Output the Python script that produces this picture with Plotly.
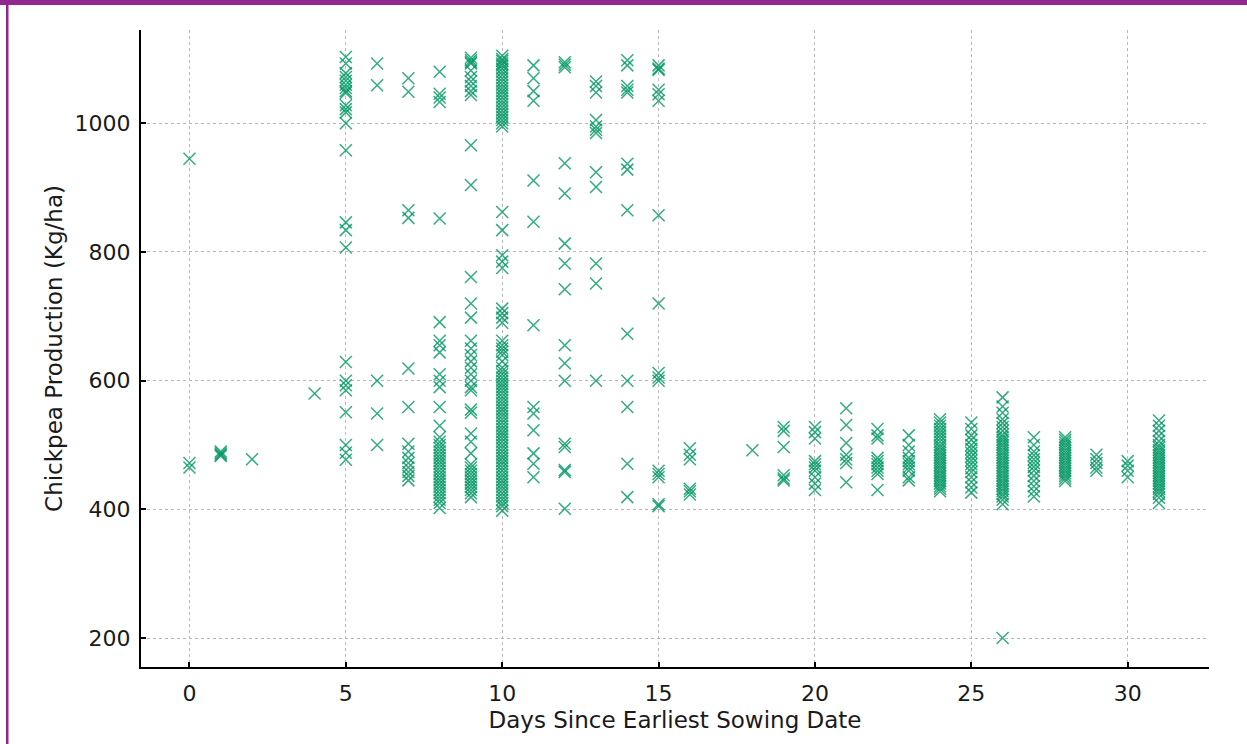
import plotly.graph_objects as go

# Chickpea production (Kg/ha) observed per "days since earliest sowing date"
d0 = [945, 472, 465]
d1 = [490, 487, 485, 483]
d2 = [478]
d4 = [580]
d5 = [1103, 1093, 1078, 1072, 1066, 1060, 1055, 1050, 1047, 1028, 1022, 1017, 1000, 958,
      846, 834, 807, 629, 600, 593, 585, 551, 500, 488, 477]
d6 = [1093, 1059, 600, 549, 500]
d7 = [1070, 1049, 865, 853, 619, 559, 502, 490, 480, 472, 465, 458, 452, 445]
d8 = [1080, 1046, 1040, 1033, 852, 691, 662, 655, 644, 610, 600, 590, 559, 530,
      512, 505, 500, 495, 490, 485, 480, 475, 470, 465, 460, 455, 450, 445, 440,
      435, 430, 425, 420, 415, 410, 402]
d9 = [1102, 1098, 1095, 1093, 1082, 1072, 1065, 1058, 1050, 1044, 966, 904, 761, 720,
      698, 662, 650, 640, 630, 620, 610, 600, 590, 585, 555, 550, 518, 505, 487,
      470, 465, 460, 455, 450, 445, 440, 435, 430, 425, 419]
d10 = [1105, 1100, 1097, 1093, 1090, 1085, 1080, 1075, 1070, 1065, 1060, 1055, 1050,
       1045, 1040, 1035, 1030, 1025, 1020, 1015, 1010, 1005, 1000, 995,
       862, 834, 795, 785, 775, 712, 705, 698, 690,
       662, 655, 650, 645, 640, 630, 620, 615, 610, 605, 600, 595, 590, 585, 580,
       575, 570, 565, 560, 555, 550, 545, 540, 535, 530, 525, 520, 515, 510, 505,
       500, 495, 490, 485, 480, 475, 470, 465, 460, 455, 450, 445, 440, 435, 430,
       425, 420, 415, 410, 405, 398]
d11 = [1090, 1070, 1050, 1035, 911, 847, 686, 559, 549, 523, 487, 471, 450]
d12 = [1095, 1091, 1087, 938, 891, 813, 782, 742, 655, 627, 600, 502, 497, 461, 458, 401]
d13 = [1065, 1058, 1048, 1005, 995, 990, 985, 924, 901, 782, 751, 600]
d14 = [1098, 1090, 1058, 1052, 1048, 937, 928, 865, 673, 600, 559, 471, 419]
d15 = [1090, 1085, 1083, 1052, 1045, 1035, 857, 720, 612, 605, 600, 460, 455, 450, 408, 405]
d16 = [495, 485, 478, 432, 428, 423]
d18 = [492]
d19 = [528, 522, 497, 453, 448, 445]
d20 = [528, 520, 510, 475, 470, 465, 460, 450, 440, 430]
d21 = [557, 531, 503, 485, 478, 472, 442]
d22 = [525, 515, 510, 480, 475, 470, 465, 460, 455, 430]
d23 = [515, 500, 490, 480, 475, 470, 465, 460, 450, 445]
d24 = [540, 535, 530, 525, 520, 515, 510, 505, 500, 496, 492, 488, 484, 480, 476, 472,
       468, 464, 460, 456, 452, 448, 444, 440, 436, 432, 428]
d25 = [535, 525, 515, 508, 500, 494, 488, 482, 476, 470, 464, 458, 450, 442, 434, 426]
d26 = [574, 560, 550, 540, 534, 528, 522, 516, 512, 508, 504, 500, 496, 492, 488, 484,
       480, 476, 472, 468, 464, 460, 456, 452, 448, 444, 440, 436, 432, 428, 424,
       420, 415, 408, 200]
d27 = [512, 500, 490, 484, 478, 472, 466, 460, 452, 444, 436, 428, 420]
d28 = [512, 508, 504, 500, 496, 492, 488, 484, 480, 476, 472, 468, 464, 460, 456,
       452, 448, 444]
d29 = [485, 478, 472, 465, 460]
d30 = [475, 468, 460, 450]
d31 = [538, 530, 522, 514, 506, 500, 496, 492, 488, 484, 480, 476, 472, 468, 464,
       460, 456, 452, 448, 444, 440, 436, 432, 428, 424, 418, 410]

columns = {0: d0, 1: d1, 2: d2, 4: d4, 5: d5, 6: d6, 7: d7, 8: d8, 9: d9, 10: d10,
           11: d11, 12: d12, 13: d13, 14: d14, 15: d15, 16: d16, 18: d18, 19: d19,
           20: d20, 21: d21, 22: d22, 23: d23, 24: d24, 25: d25, 26: d26, 27: d27,
           28: d28, 29: d29, 30: d30, 31: d31}

days, production = [], []
for k, vals in columns.items():
    days += [k] * len(vals)
    production += vals

x_ticks = [0, 5, 10, 15, 20, 25, 30]
y_ticks = [200, 400, 600, 800, 1000]

FONT = "DejaVu Sans"

fig = go.Figure(go.Scatter(
    x=days, y=production, mode="markers",
    marker=dict(symbol="x-thin", size=12, color="rgba(0,0,0,0)",
                line=dict(color="rgba(0,150,100,0.8)", width=1.5)),
    showlegend=False, hoverinfo="x+y",
))

axis_common = dict(
    showline=True, linecolor="black", linewidth=2, mirror=False,
    ticks="inside", ticklen=5, tickwidth=1.6, tickcolor="black",
    showgrid=True, gridcolor="#b8b8b8", gridwidth=1, griddash="dot",
    zeroline=False, tickfont=dict(family=FONT, size=22, color="#1a1a1a"),
)

fig.update_layout(
    width=1247, height=744,
    margin=dict(l=141, r=38, t=30, b=77),
    paper_bgcolor="white", plot_bgcolor="white",
    font=dict(family=FONT, color="#1a1a1a"),
    xaxis=dict(range=[-1.55, 32.6], tickvals=x_ticks, ticklabelstandoff=6,
               title=dict(text="Days Since Earliest Sowing Date", font=dict(family=FONT, size=23), standoff=6),
               **axis_common),
    yaxis=dict(range=[155, 1145], tickvals=y_ticks, ticklabelstandoff=4,
               title=dict(text="Chickpea Production (Kg/ha)", font=dict(family=FONT, size=23), standoff=6),
               **axis_common),
    shapes=[
        dict(type="rect", xref="paper", yref="paper",
             x0=(0 - 141) / 1068, x1=(1247 - 141) / 1068,
             y0=(667 - 0) / 637, y1=(667 - 5) / 637,
             fillcolor="#92278f", line=dict(width=0), layer="above"),
        dict(type="rect", xref="paper", yref="paper",
             x0=(6 - 141) / 1068, x1=(8.5 - 141) / 1068,
             y0=(667 - 744) / 637, y1=(667 - 0) / 637,
             fillcolor="#92278f", line=dict(width=0), layer="above"),
    ],
)

fig.write_html("out.html")
